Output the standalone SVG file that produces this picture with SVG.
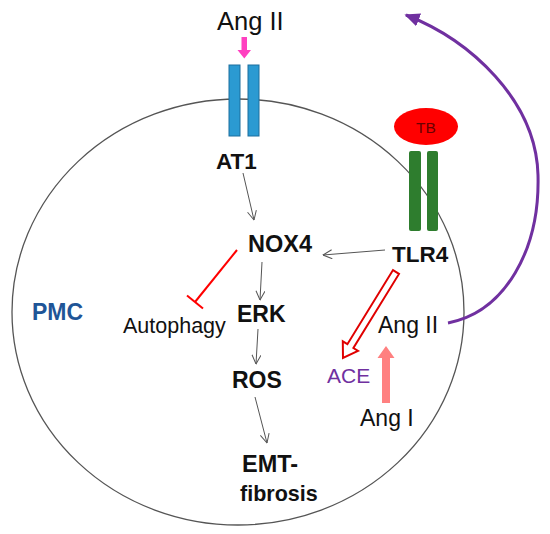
<svg xmlns="http://www.w3.org/2000/svg" width="550" height="534" viewBox="0 0 550 534">
<defs>
<marker id="open" viewBox="0 0 10 10" refX="9.5" refY="5" markerWidth="10" markerHeight="10" markerUnits="userSpaceOnUse" orient="auto">
<path d="M0.5,0.5 L9.5,5 L0.5,9.5" fill="none" stroke="#555" stroke-width="1"/>
</marker>
<marker id="purpleHead" viewBox="0 0 10 10" refX="8" refY="5" markerWidth="17" markerHeight="17" markerUnits="userSpaceOnUse" orient="auto">
<path d="M0,1 L9,5 L0,9 Z" fill="#7030A0"/>
</marker>
<style>
text{font-family:"Liberation Sans",Arial,sans-serif;}
.b{font-weight:bold;font-size:22.5px;fill:#111;}
.r{font-size:23px;fill:#111;}
.thin{fill:none;stroke:#555;stroke-width:1;marker-end:url(#open);}
.blue{fill:#2B9AD2;stroke:#1C6E9E;stroke-width:1;}
.green{fill:#2E7D2E;}
</style>
</defs>
<rect width="550" height="534" fill="#fff"/>
<g id="cell">
<ellipse cx="238" cy="312" rx="226" ry="213" fill="none" stroke="#555" stroke-width="1.3"/>
<text x="32" y="320" class="b" style="fill:#1F5597;font-size:23px">PMC</text>
</g>
<g id="angII-top">
<text x="217" y="30" class="r" style="font-size:25.5px">Ang II</text>
<polygon points="241.5,37 247,37 247,50 251,50 244.3,58.5 237.5,50 241.5,50" fill="#FF40C0"/>
</g>
<g id="AT1">
<rect x="229" y="65" width="11" height="71" class="blue"/>
<rect x="248" y="65" width="11" height="71" class="blue"/>
<text x="216" y="169" class="b">AT1</text>
</g>
<g id="TB">
<ellipse cx="426" cy="126.5" rx="32" ry="18.5" fill="#FF0000"/>
<text x="426" y="132.5" text-anchor="middle" font-family="Liberation Sans, Arial, sans-serif" style="font-size:15.5px;fill:#6A0000">TB</text>
</g>
<g id="TLR4">
<rect x="409" y="151" width="12" height="80" rx="2" class="green"/>
<rect x="427" y="151" width="11" height="80" rx="2" class="green"/>
<text x="392" y="262" class="b">TLR4</text>
</g>
<g id="NOX4"><text x="248" y="252" class="b" style="font-size:23.5px">NOX4</text></g>
<g id="ERK"><text x="237" y="322" class="b" style="font-size:23px">ERK</text></g>
<g id="ROS"><text x="232" y="388" class="b" style="font-size:23px">ROS</text></g>
<g id="EMT">
<text x="242" y="472" class="b" style="font-size:23.5px">EMT-</text>
<text x="240" y="501" class="b" style="font-size:21.5px">fibrosis</text>
</g>
<g id="Autophagy"><text x="123" y="333" class="r" style="font-size:21.5px">Autophagy</text></g>
<g id="ACE"><text x="327" y="383" style="font-size:21px;fill:#7030A0">ACE</text></g>
<g id="AngII-in"><text x="378" y="333" class="r">Ang II</text></g>
<g id="AngI"><text x="360" y="426" class="r">Ang I</text></g>
<g id="connectors">
<line x1="243" y1="173" x2="254" y2="220" class="thin"/>
<line x1="385" y1="250" x2="323" y2="255" class="thin"/>
<line x1="262" y1="262" x2="260" y2="300" class="thin"/>
<line x1="258" y1="329" x2="256" y2="364" class="thin"/>
<line x1="255" y1="397" x2="267" y2="443" class="thin"/>
<line x1="237" y1="250" x2="195" y2="302" stroke="#FF0000" stroke-width="2"/>
<line x1="187" y1="295.5" x2="203" y2="308.5" stroke="#FF0000" stroke-width="2"/>
<polygon points="393,270.1 399,273.9 353.4,348 358,350.9 343,358 342.8,341.3 347.4,344.2" fill="#fff" stroke="#E00000" stroke-width="2" stroke-linejoin="miter"/>
<polygon points="382,403 390,403 390,358 394.5,358 386,346 377.5,358 382,358" fill="#FF8080"/>
<path d="M448,323 C505,312 540,250 538,175 C536,100 470,40 406,15" fill="none" stroke="#7030A0" stroke-width="3" marker-end="url(#purpleHead)"/>
</g>
</svg>
